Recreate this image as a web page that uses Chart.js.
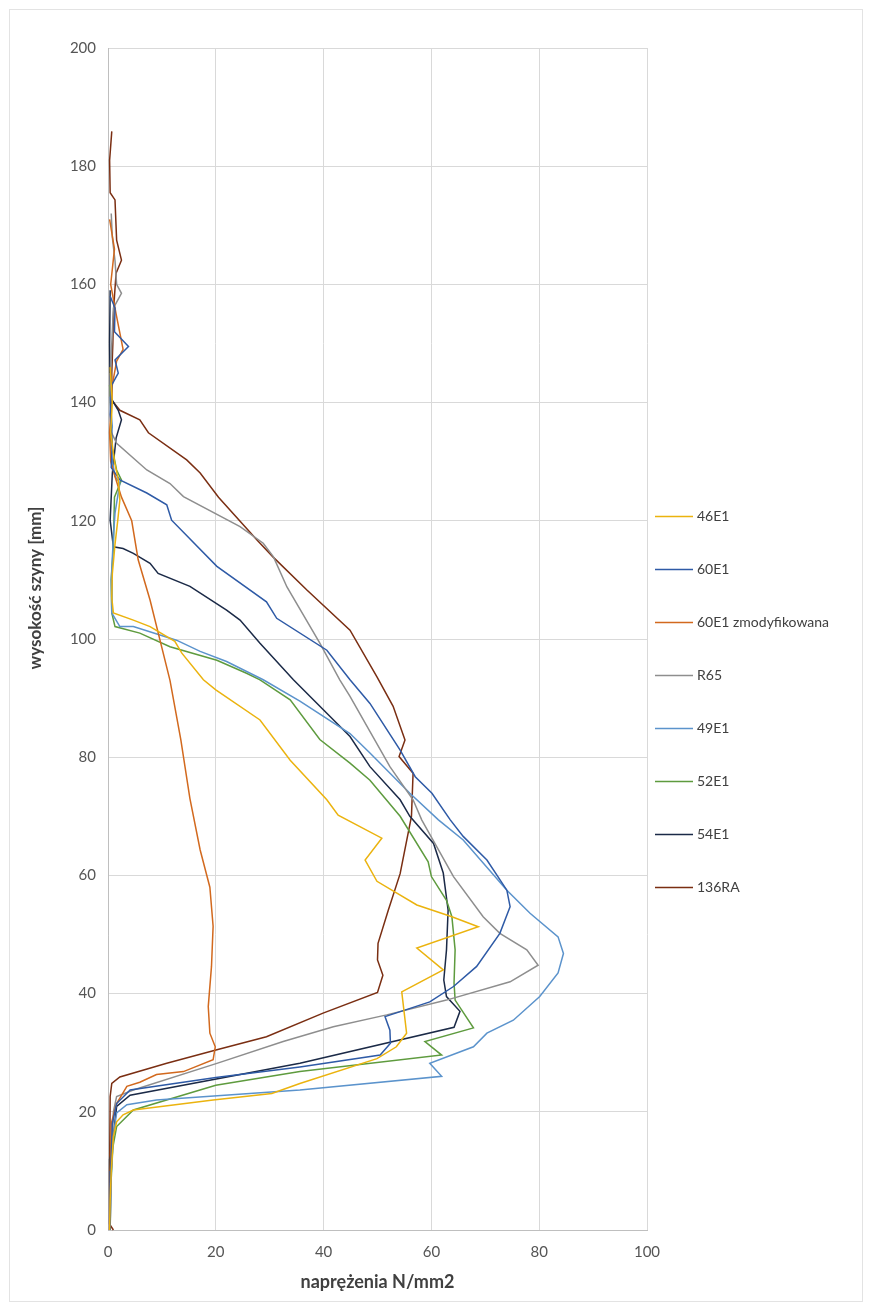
<!DOCTYPE html>
<html>
<head>
<meta charset="utf-8">
<script src="https://cdn.jsdelivr.net/npm/chart.js@4/dist/chart.umd.min.js"></script>
<style>
  html, body { margin: 0; padding: 0; background: #fff; }
  #wrap { width: 872px; height: 1311px; }
</style>
</head>
<body>
<div id="wrap"><canvas id="chartNaprezenia"></canvas></div>
<script>
// Serie: [naprężenie N/mm2, wysokość mm]
const seriesNames = ['46E1', '60E1', '60E1 zmodyfikowana', 'R65', '49E1', '52E1', '54E1', '136RA'];
const seriesColors = ['#EBB30E', '#2E5AA6', '#D2691E', '#8E8E8E', '#5B93CC', '#5E9B3E', '#1B2A47', '#7A2E12'];

const s46E1 = [[0.4,146],[0.8,140],[0.5,135],[1.2,130],[1.9,127],[2.2,123.5],[1.8,120],[1.3,116],[0.8,111],[0.7,107],[1.0,104.4],[4.7,103.2],[7.8,102.1],[12.4,99.6],[13.7,97.6],[17.7,93.1],[20,91.4],[28.2,86.3],[33.8,79.5],[40.6,72.8],[42.7,70.2],[50.8,66.3],[47.7,62.6],[49.9,59],[57.3,55],[63.8,53],[68.7,51.3],[57.3,47.7],[62.2,44],[54.5,40.3],[55.4,33.3],[53.5,31],[49.9,29],[35.6,24.8],[30.4,23.1],[19.5,22],[4.7,20.3],[2.8,19.5],[1.6,18.3],[1.0,15.8],[0.6,10],[0.4,5],[0.3,0]];
const s60E1 = [[0.4,158],[1.3,156],[1.2,152],[3.8,149.5],[1.3,147.2],[1.9,145],[0.7,143],[0.4,138],[0.8,133],[0.6,129],[2.2,126.9],[7.2,124.7],[10.9,122.7],[11.8,120.1],[20.2,112.3],[29.4,106.3],[31.3,103.5],[40.6,98.1],[44.9,93.1],[48.6,89.1],[54.2,81.2],[57,76.7],[60.1,73.9],[63.5,69.4],[65.9,66.6],[70.3,62.6],[74,57.5],[74.6,54.7],[72.7,50.2],[68.4,44.6],[64.1,41.2],[59.7,38.6],[51.4,36.1],[52.3,33.8],[52.4,31.6],[50.5,29.6],[35.6,27.6],[20,25.8],[4.1,23.7],[1.6,21.4],[0.8,18],[0.5,10],[0.4,0]];
const s60E1mod = [[0.3,171],[1.2,166],[0.5,160],[1.5,155],[2.8,149],[1.6,147],[0.8,143],[0.3,135],[0.5,130],[1.3,127.5],[2.5,124],[4.4,120],[5.6,113.4],[7.8,106.6],[11.5,93],[13.5,83],[15.2,73],[17.1,64.3],[18.9,58],[19.5,51.4],[19.2,44.6],[18.6,37.8],[18.9,33.3],[19.9,31],[19.5,28.8],[14,26.8],[9,26.3],[5.9,25],[3.5,24.3],[1.6,21.4],[0.6,18],[0.4,10],[0.3,0]];
const sR65 = [[0.6,172],[0.8,168],[1.3,164],[1.6,160],[2.5,158.5],[1.0,156],[0.7,150],[0.5,145],[0.4,140],[0.6,135],[1.6,133.1],[7.2,128.6],[11.5,126.3],[14,124.1],[24.5,119],[28.8,116.2],[30.7,113.9],[33.2,108.8],[39.3,99.3],[43,93.1],[44.9,90.3],[52.3,78.4],[56.6,72.8],[58.2,69.4],[64.1,59.8],[69.6,53],[72.7,50.2],[77.7,47.4],[79.8,44.8],[74.6,42],[62.8,38.9],[51.7,36.4],[41.8,34.4],[32.5,31.9],[20.2,28.2],[4.7,23.7],[1.6,22.6],[1.0,20],[0.6,10],[0.4,0]];
const s49E1 = [[0.3,141],[0.8,136],[0.5,132],[1.3,127.5],[2.2,126.4],[1.3,121.3],[1.0,117.3],[0.6,110],[0.7,104.4],[2.2,102.1],[4.7,102.1],[12.7,99.8],[17.1,97.9],[22,96.2],[28.8,93.1],[35.6,89.5],[44.9,84],[48.6,80.7],[56,73.9],[61.3,69.4],[65.9,66],[74,57.5],[78.3,53.6],[83.5,49.6],[84.5,46.8],[83.5,43.5],[80.1,39.5],[75.2,35.5],[70.3,33.3],[67.8,31],[59.7,28.2],[61.9,26],[35.6,23.7],[9,22],[3.5,21.2],[1.6,19.8],[1.0,16],[0.5,8],[0.4,0]];
const s52E1 = [[0.3,143],[0.6,138],[0.4,134],[1.6,128.6],[2.5,126.9],[1.2,124],[1.0,115.6],[0.6,110],[0.7,104.4],[1.3,102.1],[5.9,101],[11.5,98.7],[20.2,96.4],[25.7,94.2],[28.2,93.1],[33.8,89.7],[39.3,83],[44.9,79],[48.6,76.1],[54.2,70],[59.4,62.3],[60,59.8],[62.8,55.8],[63.8,53],[64.4,47.4],[64.2,41.8],[64.4,38.9],[67.8,34.2],[58.8,31.9],[61.9,29.6],[35.6,26.8],[20,24.5],[4.7,20.3],[1.6,17.5],[0.9,14],[0.5,7],[0.4,0]];
const s54E1 = [[0.4,159],[0.3,150],[0.4,141],[1.9,138.7],[2.5,137.1],[1.5,134],[0.8,128],[0.4,120.1],[1.0,115.6],[2.8,115.3],[4.7,114.5],[7.8,112.8],[9.3,111.1],[15.2,108.9],[22,104.9],[24.5,103.2],[28.2,99.3],[34.4,93.1],[40,88],[44.9,83.5],[48.6,78.4],[54.2,72.8],[56,70],[60.4,65.4],[62.2,60.4],[63.1,54.1],[62.8,47.4],[62.3,42.3],[62.8,39.5],[65.3,37],[64.2,34.3],[35.6,28.2],[4.1,22.8],[1.6,20.9],[1.0,16],[0.8,13.5],[0.3,12],[0.3,0]];
const s136RA = [[0.7,185.9],[0.3,181],[0.4,175.5],[1.3,174.3],[1.6,167.5],[2.5,164.1],[1.5,161.9],[1.2,158],[1.0,154.5],[0.9,150],[0.7,145],[0.7,140.4],[2.2,138.7],[5.9,137.1],[7.5,134.9],[14.6,130.3],[17.1,128.1],[20.5,124],[27.6,116.8],[30.6,113.9],[36.9,108.3],[44.9,101.5],[49.9,93.6],[52.9,88.6],[55.1,82.9],[54,80.1],[56.6,77.3],[56.3,70],[54.2,60.3],[52,54.1],[50.1,48.5],[50,45.7],[51,43.1],[50,40.2],[39.9,36.7],[29.4,32.7],[20.2,30.5],[10.9,28.2],[2.2,25.9],[0.7,24.8],[0.4,22.6],[0.3,10],[0.3,1],[1,0]];

const seriesData = [s46E1, s60E1, s60E1mod, sR65, s49E1, s52E1, s54E1, s136RA];

const xTicks = [0, 20, 40, 60, 80, 100];
const yTicks = [0, 20, 40, 60, 80, 100, 120, 140, 160, 180, 200];
const xTitle = 'naprężenia N/mm2';
const yTitle = 'wysokość szyny [mm]';

const FONT = 'Lato, "Open Sans", sans-serif';
const GRID = '#D9D9D9';
const TEXT = '#555555';
const TITLE = '#404040';

// Legenda rysowana po prawej stronie
const legendaPlugin = {
    id: 'legendaBoczna',
    afterDraw(chart) {
        const ctx = chart.ctx;
        const x0 = chart.chartArea.right + 8;
        const yStart = 516;
        const step = 53;
        ctx.save();
        ctx.font = '14px ' + FONT;
        ctx.textBaseline = 'middle';
        chart.data.datasets.forEach((ds, i) => {
            const y = yStart + i * step;
            ctx.strokeStyle = ds.borderColor;
            ctx.lineWidth = 1.5;
            ctx.beginPath();
            ctx.moveTo(x0, y + 0.5);
            ctx.lineTo(x0 + 38, y + 0.5);
            ctx.stroke();
            ctx.fillStyle = TITLE;
            ctx.fillText(ds.label, x0 + 42, y);
        });
        ctx.restore();
    }
};

// Tytuł osi Y (przesunięty w górę jak w oryginale)
const tytulYPlugin = {
    id: 'tytulY',
    afterDraw(chart) {
        const ctx = chart.ctx;
        ctx.save();
        ctx.translate(36, 588);
        ctx.rotate(-Math.PI / 2);
        ctx.font = 'bold 17px ' + FONT;
        ctx.fillStyle = TITLE;
        ctx.textAlign = 'center';
        ctx.textBaseline = 'middle';
        ctx.fillText(yTitle, 0, 0);
        ctx.restore();
    }
};

// Ramka wykresu
const ramkaPlugin = {
    id: 'ramka',
    beforeDraw(chart) {
        const ctx = chart.ctx;
        ctx.save();
        ctx.fillStyle = '#fff';
        ctx.fillRect(0, 0, chart.width, chart.height);
        ctx.strokeStyle = '#E3E3E3';
        ctx.lineWidth = 1;
        ctx.strokeRect(9.5, 9.5, chart.width - 19, chart.height - 19);
        ctx.restore();
    }
};

const ctx = document.getElementById('chartNaprezenia').getContext('2d');
new Chart(ctx, {
    type: 'scatter',
    data: {
        datasets: seriesNames.map((name, i) => ({
            label: name,
            data: seriesData[i].map(p => ({ x: p[0], y: p[1] })),
            showLine: true,
            borderColor: seriesColors[i],
            backgroundColor: seriesColors[i],
            borderWidth: 1.5,
            pointRadius: 0,
            tension: 0,
            clip: false
        }))
    },
    options: {
        responsive: true,
        maintainAspectRatio: false,
        animation: false,
        layout: {
            padding: { left: 18, top: 48, right: 225, bottom: 10 }
        },
        plugins: {
            legend: { display: false },
            tooltip: { enabled: false }
        },
        scales: {
            x: {
                type: 'linear',
                min: 0,
                max: 100,
                afterBuildTicks: scale => { scale.ticks = xTicks.map(v => ({ value: v })); },
                afterFit: scale => { scale.height = 71; },
                grid: { color: GRID, drawTicks: false },
                border: { color: '#BFBFBF' },
                ticks: { color: TEXT, font: { family: FONT, size: 15 }, padding: 13 },
                title: {
                    display: true,
                    text: xTitle,
                    color: TITLE,
                    font: { family: FONT, size: 18, weight: 'bold' },
                    padding: { top: 4, bottom: 8 }
                }
            },
            y: {
                type: 'linear',
                min: 0,
                max: 200,
                afterBuildTicks: scale => { scale.ticks = yTicks.map(v => ({ value: v })); },
                afterFit: scale => { scale.width = 90; },
                grid: { color: GRID, drawTicks: false },
                border: { color: '#BFBFBF' },
                ticks: { color: TEXT, font: { family: FONT, size: 15 }, padding: 12 }
            }
        }
    },
    plugins: [ramkaPlugin, legendaPlugin, tytulYPlugin]
});
</script>
</body>
</html>
